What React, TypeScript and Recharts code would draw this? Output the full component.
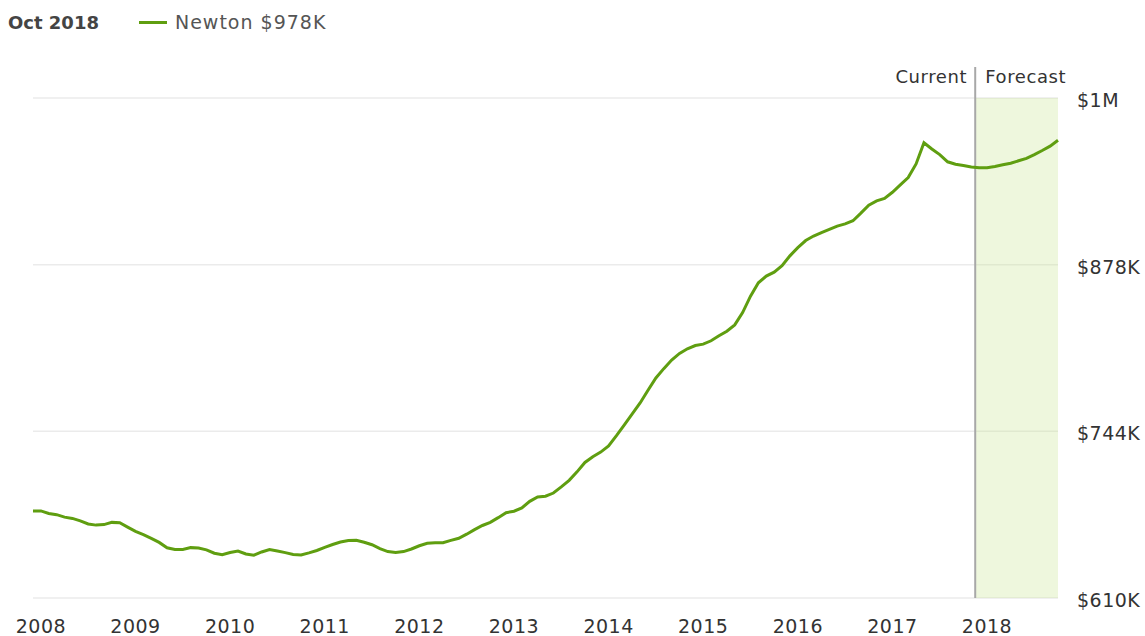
import React from 'react';
import { LineChart, Line, XAxis, YAxis, CartesianGrid, ReferenceLine, ReferenceArea } from 'recharts';

// Monthly values (thousands USD), starting Dec 2007 (index -1) through Oct 2018 (index 129)
const newtonValues: number[] = [
  680, 680, 678, 677, 675, 674, 672, 669.5, 668.6, 669, 670.8, 670.5, 667,
  663.6, 661, 658, 654.7, 650.4, 649, 649, 650.5, 650.2, 648.7, 646, 644.8,
  646.6, 647.8, 645.4, 644.4, 647, 649, 647.8, 646.5, 645, 644.6, 646.3, 648.2,
  650.7, 653, 655, 656.3, 656.4, 654.8, 652.8, 649.7, 647.3, 646.5, 647.3, 649.4,
  652, 654, 654.4, 654.5, 656.3, 658, 661.3, 665, 668.3, 670.8, 674.6, 678.6,
  679.8, 682.4, 687.7, 691.3, 691.8, 694.4, 699.3, 704.6, 711.4, 719, 723.6, 727.3,
  732.2, 740.5, 749.2, 758, 766.8, 777, 786.9, 794.4, 801.3, 806.6, 810.4, 813,
  814.1, 816.8, 820.8, 824.5, 829.6, 839.5, 852.7, 863.4, 868.8, 872, 877.1, 885.1,
  891.7, 897.4, 901, 903.8, 906.4, 909, 910.8, 913.3, 919.4, 925.8, 929.3, 931.3,
  936.2, 942.1, 948, 959, 976, 971, 966.5, 960.7, 958.8, 957.8, 956.5, 955.9,
  955.9, 957, 958.3, 959.6, 961.5, 963.5, 966.5, 969.8, 973.3, 978,
];
const firstMonthIndex = -1; // Dec 2007, months counted from Jan 2008
const monthIndex: number[] = newtonValues.map((_, i) => i + firstMonthIndex);

const yearTicks: number[] = [0, 12, 24, 36, 48, 60, 72, 84, 96, 108, 120];
const yearLabels: string[] = ['2008', '2009', '2010', '2011', '2012', '2013', '2014', '2015', '2016', '2017', '2018'];

const valueTicks: number[] = [610, 744, 878, 1012];
const valueLabels: string[] = ['$610K', '$744K', '$878K', '$1M'];

const currentMonth = 118.5;
const forecastEnd = 129;
const markerTop = 1037;

const seriesName = 'Newton';
const headerDate = 'Oct 2018';

const data = monthIndex.map((m, i) => ({ m, value: newtonValues[i] }));

const GREEN = '#5f9e10';
const FONT = '"DejaVu Sans", sans-serif';

const XTick = (props: any) => {
  const { x, y, payload } = props;
  const idx = yearTicks.indexOf(payload.value);
  return (
    <text x={x} y={y + 28} textAnchor="middle" dominantBaseline="central" fontFamily={FONT} fontSize={19} fill="#333" letterSpacing={0.5}>
      {yearLabels[idx]}
    </text>
  );
};

const YTick = (props: any) => {
  const { x, y, payload } = props;
  const idx = valueTicks.indexOf(payload.value);
  return (
    <text x={x + 19} y={y + 2} textAnchor="start" dominantBaseline="central" fontFamily={FONT} fontSize={19} fill="#333" letterSpacing={0.5}>
      {valueLabels[idx]}
    </text>
  );
};

const MarkerLabel = (props: any) => {
  const vb = props.viewBox || {};
  const x = vb.x ?? 0;
  const y = vb.y ?? 0;
  return (
    <g>
      <text x={x - 8} y={y + 10} textAnchor="end" dominantBaseline="central" fontFamily={FONT} fontSize={18} fill="#333" letterSpacing={0.6}>Current</text>
      <text x={x + 10} y={y + 10} textAnchor="start" dominantBaseline="central" fontFamily={FONT} fontSize={18} fill="#333" letterSpacing={0.6}>Forecast</text>
    </g>
  );
};

export default function App() {
  const lastValue = newtonValues[newtonValues.length - 1];
  return (
    <div style={{ position: 'absolute', left: 0, top: 0, width: 1145, height: 636, background: '#fff' }}>
      <div style={{ position: 'absolute', left: 8, top: 10, display: 'flex', alignItems: 'center', fontFamily: FONT, fontSize: 18, height: 24 }}>
        <span style={{ fontWeight: 'bold', color: '#444' }}>{headerDate}</span>
        <span style={{ display: 'inline-block', width: 28, height: 3, background: GREEN, marginLeft: 40, marginRight: 8 }} />
        <span style={{ color: '#555', fontSize: 19, letterSpacing: 1 }}>{`${seriesName} $${Math.round(lastValue)}K`}</span>
      </div>
      <LineChart width={1145} height={636} data={data} margin={{ top: 98, right: 0, left: 33, bottom: 0 }}>
        <CartesianGrid vertical={false} stroke="#ebebeb" strokeWidth={1.5} />
        <ReferenceArea x1={currentMonth} x2={forecastEnd} y1={610} y2={1012} fill="#c6e48e" fillOpacity={0.3} stroke="none" />
        <XAxis
          dataKey="m"
          type="number"
          domain={[firstMonthIndex, forecastEnd]}
          ticks={yearTicks}
          tick={<XTick />}
          axisLine={false}
          tickLine={false}
          tickSize={0}
          tickMargin={0}
          height={38}
          interval={0}
        />
        <YAxis
          orientation="right"
          domain={[610, 1012]}
          ticks={valueTicks}
          tick={<YTick />}
          axisLine={false}
          tickLine={false}
          tickSize={0}
          tickMargin={0}
          width={87}
          interval={0}
        />
        <ReferenceLine
          segment={[{ x: currentMonth, y: 610 }, { x: currentMonth, y: markerTop }]}
          stroke="#a8a8a8"
          strokeWidth={2}
          ifOverflow="visible"
          label={<MarkerLabel />}
        />
        <Line type="linear" dataKey="value" stroke={GREEN} strokeWidth={3} dot={false} isAnimationActive={false} />
      </LineChart>
    </div>
  );
}
